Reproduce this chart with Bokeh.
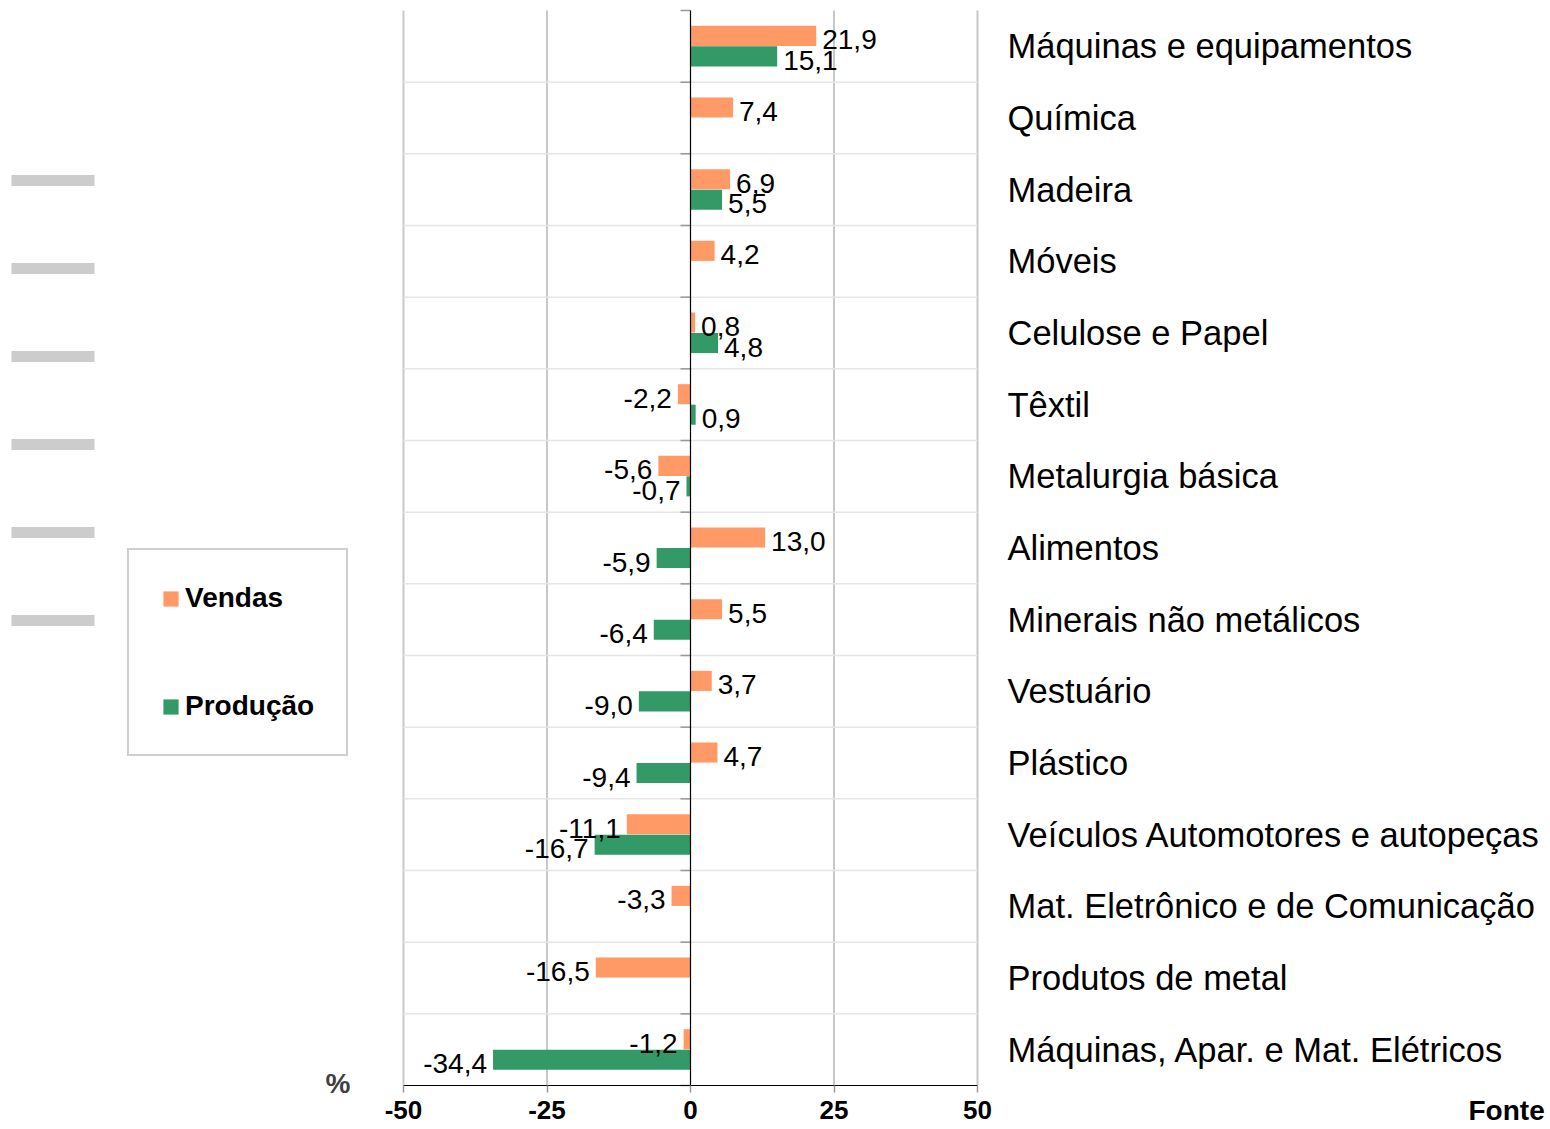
from bokeh.plotting import figure
from bokeh.models import (ColumnDataSource, Range1d, FixedTicker, Legend, LegendItem,
                          Label, BoxAnnotation)
from bokeh.embed import file_html
from bokeh.resources import INLINE
from bokeh.core.properties import value, field

# ---------------- data ----------------
categories = [
    "Máquinas e equipamentos",
    "Química",
    "Madeira",
    "Móveis",
    "Celulose e Papel",
    "Têxtil",
    "Metalurgia básica",
    "Alimentos",
    "Minerais não metálicos",
    "Vestuário",
    "Plástico",
    "Veículos Automotores e autopeças",
    "Mat. Eletrônico e de Comunicação",
    "Produtos de metal",
    "Máquinas, Apar. e Mat. Elétricos",
]
vendas = [21.9, 7.4, 6.9, 4.2, 0.8, -2.2, -5.6, 13.0, 5.5, 3.7, 4.7, -11.1, -3.3, -16.5, -1.2]
producao = [15.1, None, 5.5, None, 4.8, 0.9, -0.7, -5.9, -6.4, -9.0, -9.4, -16.7, None, None, -34.4]
x_ticks = [-50, -25, 0, 25, 50]
series_names = ["Vendas", "Produção"]
unit_text = "%"
source_text = "Fonte"

ORANGE = "#FF9966"
GREEN = "#339966"
FONT = "Liberation Sans"

# ---------------- layout (pixels) ----------------
W, H = 1550, 1129
PL, PR, PT, PB = 403, 977, 10, 1085      # plot area edges in page pixels
NCAT = len(categories)
XS = (x_ticks[-1] - x_ticks[0]) / (PR - PL)
YS = NCAT / (PB - PT)


def dx(px):
    return x_ticks[0] + (px - PL) * XS


def dy(py):
    return (PB - py) * YS


def fmt(v):
    return f"{v:.1f}".replace(".", ",")


p = figure(width=W, height=H,
           x_range=Range1d(dx(0), dx(W)), y_range=Range1d(dy(H), dy(0)),
           output_backend="svg", toolbar_location=None,
           x_axis_location="below", y_axis_location="right",
           min_border=0, outline_line_color=None, background_fill_color="white")
p.xgrid.grid_line_color = None
p.ygrid.grid_line_color = None

centers = [NCAT - 1 - i + 0.5 for i in range(NCAT)]

# vertical grid lines, row separators, small ticks at the zero line
grid_x = [t for t in x_ticks if t != 0]
p.segment(x0=grid_x, x1=grid_x, y0=[0] * len(grid_x), y1=[NCAT] * len(grid_x),
          line_color="#c8c8c8", line_width=2)
bounds = list(range(1, NCAT))
p.segment(x0=[x_ticks[0]] * len(bounds), x1=[x_ticks[-1]] * len(bounds), y0=bounds, y1=bounds,
          line_color="#e6e6e6", line_width=1.5)
allb = list(range(0, NCAT + 1))
p.segment(x0=[-10 * XS] * len(allb), x1=[0] * len(allb), y0=allb, y1=allb,
          line_color="#999999", line_width=1.5)

# bars
OFF_V, OFF_P, BH = 0.146, -0.14, 0.28


def make_src(cats_c, vals, off):
    return ColumnDataSource(dict(
        y=[c + off for c in cats_c], val=vals, lab=[fmt(v) for v in vals],
        align=["left" if v >= 0 else "right" for v in vals],
        xo=[6 if v >= 0 else -6 for v in vals]))


src_v = make_src(centers, vendas, OFF_V)
pcent = [c for c, v in zip(centers, producao) if v is not None]
pv = [v for v in producao if v is not None]
src_p = make_src(pcent, pv, OFF_P)

rv = p.hbar(y="y", left=0, right="val", height=BH, fill_color=ORANGE, line_color=None, source=src_v)
rp = p.hbar(y="y", left=0, right="val", height=BH, fill_color=GREEN, line_color=None, source=src_p)

# zero line
p.segment(x0=[0], x1=[0], y0=[0], y1=[NCAT], line_color="black", line_width=1.2)

for src in (src_v, src_p):
    p.text(x="val", y="y", text="lab",
           text_align=field("align"), x_offset="xo", y_offset=4,
           text_baseline="middle", text_font=value(FONT), text_font_size="28px",
           text_color="black", source=src)

# x axis (drawn at the bottom of the plot area)
xa = p.xaxis[0]
xa.fixed_location = 0
xa.bounds = (x_ticks[0], x_ticks[-1])
xa.ticker = FixedTicker(ticks=x_ticks)
xa.major_label_overrides = {t: str(t) for t in x_ticks}
xa.axis_line_color = "black"
xa.axis_line_width = 1.2
xa.major_tick_line_color = "#999999"
xa.major_tick_line_width = 1.5
xa.major_tick_in = 0
xa.major_tick_out = 7
xa.minor_tick_line_color = None
xa.major_label_standoff = 8
xa.major_label_text_font = FONT
xa.major_label_text_font_style = "bold"
xa.major_label_text_font_size = "26px"
xa.major_label_text_color = "black"

# category axis on the right of the plot area
ya = p.yaxis[0]
ya.fixed_location = x_ticks[-1]
ya.ticker = FixedTicker(ticks=centers)
ya.major_label_overrides = {c: name for c, name in zip(centers, categories)}
ya.axis_line_color = None
ya.major_tick_line_color = None
ya.minor_tick_line_color = None
ya.major_label_standoff = 24
ya.major_label_text_font = FONT
ya.major_label_text_font_size = "34.5px"
ya.major_label_text_color = "black"

# legend
legend = Legend(items=[LegendItem(label=series_names[0], renderers=[rv]),
                       LegendItem(label=series_names[1], renderers=[rp])],
                location=(127, H - 756), orientation="vertical",
                border_line_color="#a0a0a0", border_line_width=2.5,
                background_fill_color="white", background_fill_alpha=1,
                padding=32, spacing=76, margin=0, label_standoff=5,
                glyph_width=19, glyph_height=19, label_height=32,
                label_text_font=FONT, label_text_font_style="bold",
                label_text_font_size="28px", label_text_color="black")
p.add_layout(legend)

# grey dashes on the far left
for cy in [180, 268, 356, 444, 532, 620]:
    p.add_layout(BoxAnnotation(left=dx(11), right=dx(94), bottom=dy(cy + 5.5), top=dy(cy - 5.5),
                               fill_color="#cccccc", fill_alpha=1, line_color=None))

# extra texts
p.add_layout(Label(x=dx(325), y=dy(1083), text=unit_text, text_baseline="middle",
                   text_align="left", text_font=FONT, text_font_style="bold",
                   text_font_size="28px", text_color="#404040"))
p.add_layout(Label(x=dx(1468), y=dy(1110), text=source_text, text_baseline="middle",
                   text_align="left", text_font=FONT, text_font_style="bold",
                   text_font_size="28px", text_color="black"))

open("out.html", "w").write(file_html(p, INLINE))
